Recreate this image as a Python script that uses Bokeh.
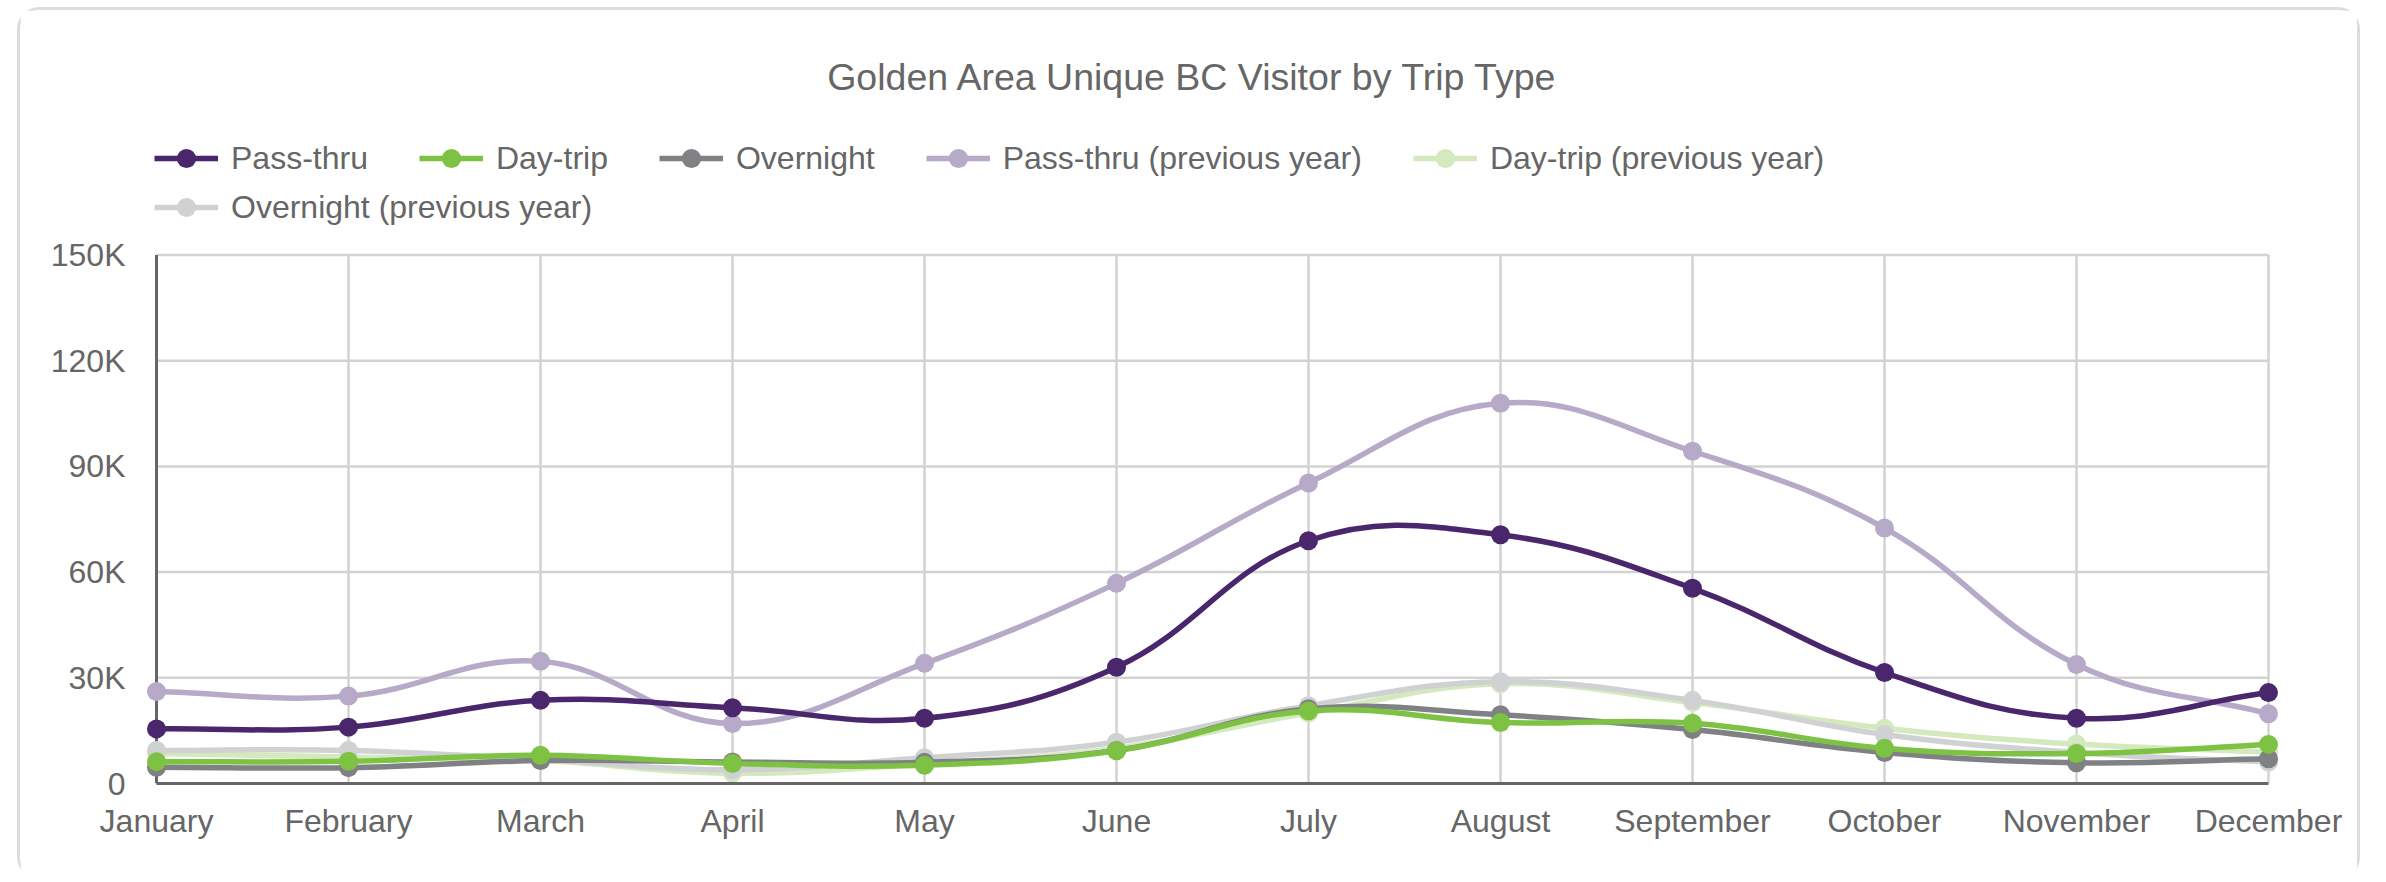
import math
from bokeh.plotting import figure
from bokeh.models import Range1d, FixedTicker, Legend, LegendItem, Label
from bokeh.embed import file_html
from bokeh.resources import INLINE

# ---------------- data ----------------
months = ["January", "February", "March", "April", "May", "June", "July",
          "August", "September", "October", "November", "December"]
y_ticks = [0, 30000, 60000, 90000, 120000, 150000]
y_tick_labels = ["0", "30K", "60K", "90K", "120K", "150K"]

pass_thru = [15500, 16000, 23600, 21500, 18500, 33000, 68900, 70600, 55400, 31500, 18500, 25800]
day_trip = [6200, 6300, 8000, 5700, 5200, 9300, 20600, 17300, 17100, 10000, 8500, 11100]
overnight = [4600, 4500, 6500, 6100, 6000, 9400, 21200, 19500, 15300, 8800, 5900, 7000]
pass_thru_prev = [26100, 24800, 34700, 17000, 34100, 56800, 85300, 107900, 94300, 72500, 33800, 19800]
day_trip_prev = [8500, 7500, 6500, 2900, 5600, 10000, 20000, 28300, 23000, 15700, 11200, 8900]
overnight_prev = [9400, 9400, 6800, 3900, 7300, 11700, 22100, 28900, 23600, 13900, 8800, 6100]

series_names = ["Pass-thru", "Day-trip", "Overnight", "Pass-thru (previous year)",
                "Day-trip (previous year)", "Overnight (previous year)"]
series_values = [pass_thru, day_trip, overnight, pass_thru_prev, day_trip_prev, overnight_prev]
series_colors = ["#4a276d", "#7dc243", "#808184", "#b7a9c8", "#d4e9bd", "#d0d1d3"]

# ---------------- layout (figure pixels) ----------------
W, H = 2343, 872
FRAME_LEFT = 126
PAD_X = 10.0
JAN_X = FRAME_LEFT + PAD_X
DEC_X = 2248.0
FRAME_RIGHT = DEC_X + PAD_X
ZERO_Y, TOP_Y = 773.0, 244.5
FRAME_TOP = 0
x_px = (DEC_X - JAN_X) / (len(months) - 1)
ax = PAD_X / x_px
y_px = (ZERO_Y - TOP_Y) / y_ticks[-1]
y_end = (ZERO_Y - FRAME_TOP) / y_px

FONT = "Liberation Sans"
TEXT = "#666666"

p = figure(width=W, height=H, output_backend="svg", toolbar_location=None,
           x_range=Range1d(-ax, len(months) - 1 + ax), y_range=Range1d(0, y_end),
           min_border_left=FRAME_LEFT, min_border_right=int(W - FRAME_RIGHT),
           min_border_top=FRAME_TOP, min_border_bottom=int(H - ZERO_Y))
p.title.visible = False
p.outline_line_color = None
p.grid.visible = False
p.background_fill_color = "white"
p.border_fill_color = "white"
p.styles = {"margin-left": "17px", "margin-top": "7px",
            "border-left": "3px solid #dddddd", "border-top": "3px solid #dddddd",
            "border-right": "3px solid #dddddd", "border-radius": "22px"}

xs = list(range(len(months)))

# grid lines
gx = xs[1:]
p.segment(x0=gx, y0=[y_ticks[0]] * len(gx), x1=gx, y1=[y_ticks[-1]] * len(gx),
          line_color="#d3d3d3", line_width=2.5)
gy = y_ticks[1:]
p.segment(x0=[xs[0]] * len(gy), y0=gy, x1=[xs[-1]] * len(gy), y1=gy,
          line_color="#d3d3d3", line_width=2.5)
# y axis line
p.segment(x0=[xs[0]], y0=[y_ticks[0]], x1=[xs[0]], y1=[y_ticks[-1]],
          line_color="#666666", line_width=3)

# axes
xa = p.xaxis[0]
xa.ticker = FixedTicker(ticks=xs)
xa.major_label_overrides = {i: m for i, m in enumerate(months)}
xa.bounds = (xs[0], xs[-1])
xa.axis_line_color = "#666666"
xa.axis_line_width = 3
xa.major_tick_line_color = None
xa.minor_tick_line_color = None
xa.major_label_standoff = 13
xa.major_label_text_font = FONT
xa.major_label_text_font_size = "32px"
xa.major_label_text_color = TEXT

ya = p.yaxis[0]
ya.ticker = FixedTicker(ticks=y_ticks)
ya.major_label_overrides = dict(zip(y_ticks, y_tick_labels))
ya.axis_line_color = None
ya.major_tick_line_color = None
ya.minor_tick_line_color = None
ya.major_label_standoff = 15
ya.major_label_text_font = FONT
ya.major_label_text_font_size = "32px"
ya.major_label_text_color = TEXT


def spline(xv, yv, t=0.4):
    n = len(xv)
    prev_c, next_c = [], []
    cl = lambda v, lo, hi: min(max(v, lo), hi)
    for i in range(n):
        a = i - 1 if i > 0 else i
        b = i + 1 if i < n - 1 else i
        d01 = math.hypot((xv[i] - xv[a]) * x_px, (yv[i] - yv[a]) * y_px)
        d12 = math.hypot((xv[b] - xv[i]) * x_px, (yv[b] - yv[i]) * y_px)
        s = d01 + d12
        s01 = d01 / s if s else 0
        s12 = d12 / s if s else 0
        fa, fb = t * s01, t * s12
        dx, dy = xv[b] - xv[a], yv[b] - yv[a]
        prev_c.append((cl(xv[i] - fa * dx, xs[0], xs[-1]), cl(yv[i] - fa * dy, 0, y_ticks[-1])))
        next_c.append((cl(xv[i] + fb * dx, xs[0], xs[-1]), cl(yv[i] + fb * dy, 0, y_ticks[-1])))
    return dict(x0=xv[:-1], y0=yv[:-1], x1=xv[1:], y1=yv[1:],
                cx0=[c[0] for c in next_c[:-1]], cy0=[c[1] for c in next_c[:-1]],
                cx1=[c[0] for c in prev_c[1:]], cy1=[c[1] for c in prev_c[1:]])


draw_order = [4, 5, 3, 2, 1, 0]
rends = {}
for k in draw_order:
    vals = series_values[k]
    col = series_colors[k]
    d = spline(xs, vals)
    lr = p.bezier(x0=d["x0"], y0=d["y0"], x1=d["x1"], y1=d["y1"],
                  cx0=d["cx0"], cy0=d["cy0"], cx1=d["cx1"], cy1=d["cy1"],
                  line_color=col, line_width=5.5)
    sr = p.scatter(x=xs, y=vals, size=19, fill_color=col, line_color=None)
    rends[k] = (lr, sr)

legend_kw = dict(orientation="horizontal", glyph_width=64, glyph_height=48,
                 label_standoff=13, spacing=51, padding=0, margin=0,
                 border_line_alpha=0, background_fill_alpha=0,
                 label_text_font=FONT, label_text_font_size="32px",
                 label_text_color=TEXT)
LEG_X = 134 - FRAME_LEFT
leg1 = Legend(items=[LegendItem(label=series_names[k], renderers=list(rends[k])) for k in range(5)],
              location=(LEG_X, ZERO_Y - 172.3), **legend_kw)
leg2 = Legend(items=[LegendItem(label=series_names[5], renderers=list(rends[5]))],
              location=(LEG_X, ZERO_Y - 221.0), **legend_kw)
p.add_layout(leg1)
p.add_layout(leg2)

title = Label(x=1172.5 - FRAME_LEFT, y=ZERO_Y - 66, x_units="screen", y_units="screen",
              text="Golden Area Unique BC Visitor by Trip Type", text_align="center",
              text_baseline="alphabetic", text_font=FONT, text_font_size="37.5px",
              text_color=TEXT)
p.add_layout(title)

open("out.html", "w").write(file_html(p, INLINE))
